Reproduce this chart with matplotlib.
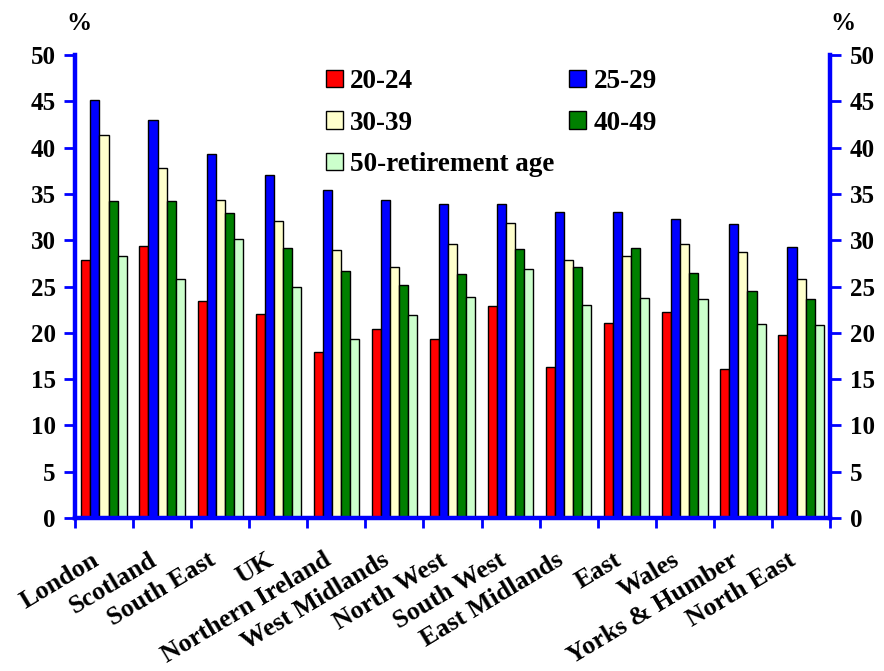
import matplotlib
matplotlib.use("Agg")
import matplotlib.pyplot as plt
import matplotlib.transforms as mtransforms
import numpy as np
from matplotlib.patches import Patch

regions = ["London", "Scotland", "South East", "UK", "Northern Ireland",
           "West Midlands", "North West", "South West", "East Midlands",
           "East", "Wales", "Yorks & Humber", "North East"]

age_20_24 = [27.9, 29.4, 23.4, 22.0, 17.9, 20.4, 19.3, 22.9, 16.3, 21.1, 22.3, 16.1, 19.8]
age_25_29 = [45.1, 43.0, 39.3, 37.0, 35.4, 34.3, 33.9, 33.9, 33.1, 33.0, 32.3, 31.7, 29.3]
age_30_39 = [41.4, 37.8, 34.3, 32.1, 28.9, 27.1, 29.6, 31.9, 27.9, 28.3, 29.6, 28.7, 25.8]
age_40_49 = [34.2, 34.2, 32.9, 29.2, 26.7, 25.2, 26.4, 29.0, 27.1, 29.2, 26.5, 24.5, 23.6]
age_50_ret = [28.3, 25.8, 30.1, 24.9, 19.3, 21.9, 23.9, 26.9, 23.0, 23.8, 23.6, 21.0, 20.8]

series_labels = ["20-24", "25-29", "30-39", "40-49", "50-retirement age"]
series_colors = ["#FF0000", "#0000FF", "#FFFFCC", "#008000", "#CCFFCC"]
series = [age_20_24, age_25_29, age_30_39, age_40_49, age_50_ret]

y_ticks = list(range(0, 55, 5))

plt.rcParams["font.family"] = ["Liberation Serif", "DejaVu Serif"]
plt.rcParams["font.weight"] = "bold"
FS = 18
FS_X = 18.8
FS_LEG = 19.5

fig = plt.figure(figsize=(8.84, 6.71), dpi=100)
ax = fig.add_axes([0.0848, 0.228, 0.8542, 0.690])

n = len(regions)
centers = np.arange(n) + 0.5
bw = 0.156
for i, (vals, col) in enumerate(zip(series, series_colors)):
    offs = (i - 2) * bw
    ax.bar(centers + offs, vals, width=bw, color=col, edgecolor="black",
           linewidth=1.0, zorder=3)

ax.set_xlim(0, n)
ax.set_ylim(0, 50)

blue = "#0000FF"
for side in ["left", "right", "bottom"]:
    ax.spines[side].set_color(blue)
    ax.spines[side].set_linewidth(3.2)
    ax.spines[side].set_zorder(4)
ax.spines["top"].set_visible(False)

ax.set_yticks(y_ticks)
ax.yaxis.set_ticks_position("both")
ax.tick_params(axis="y", which="major", direction="out", length=8, width=2,
               color=blue, labelsize=FS, labelleft=True, labelright=True, pad=6)

ax.set_xticks(np.arange(n + 1))
ax.set_xticklabels([])
ax.tick_params(axis="x", which="major", direction="out", length=7, width=2,
               color=blue)
ax.set_xticks(centers, minor=True)
ax.set_xticklabels(regions, minor=True, rotation=31, ha="right",
                   va="center", rotation_mode="anchor", fontsize=FS_X,
                   fontweight="bold")
ax.tick_params(axis="x", which="minor", length=0, pad=29)
offset_tf = mtransforms.ScaledTranslation(-7 / 100, 0, fig.dpi_scale_trans)
for lbl in ax.get_xticklabels(minor=True):
    lbl.set_transform(lbl.get_transform() + offset_tf)

fig.text(79 / 884, 1 - 23 / 671, "%", ha="center", va="center", fontsize=FS, fontweight="bold")
fig.text(843 / 884, 1 - 23 / 671, "%", ha="center", va="center", fontsize=FS, fontweight="bold")

handles = [Patch(facecolor=c, edgecolor="black", linewidth=1.0) for c in series_colors]
order = [0, 2, 4, 1, 3]
leg = ax.legend([handles[k] for k in order], [series_labels[k] for k in order],
                ncol=2, loc="upper left",
                bbox_to_anchor=(326 / 884, 1 - 69 / 671),
                bbox_transform=fig.transFigure,
                frameon=False, prop={"size": FS_LEG, "weight": "bold"},
                handlelength=0.63, handleheight=0.63, handletextpad=0.26,
                labelspacing=0.61, columnspacing=0.55, borderaxespad=0,
                borderpad=0)

fig.savefig("out.png", dpi=100)
